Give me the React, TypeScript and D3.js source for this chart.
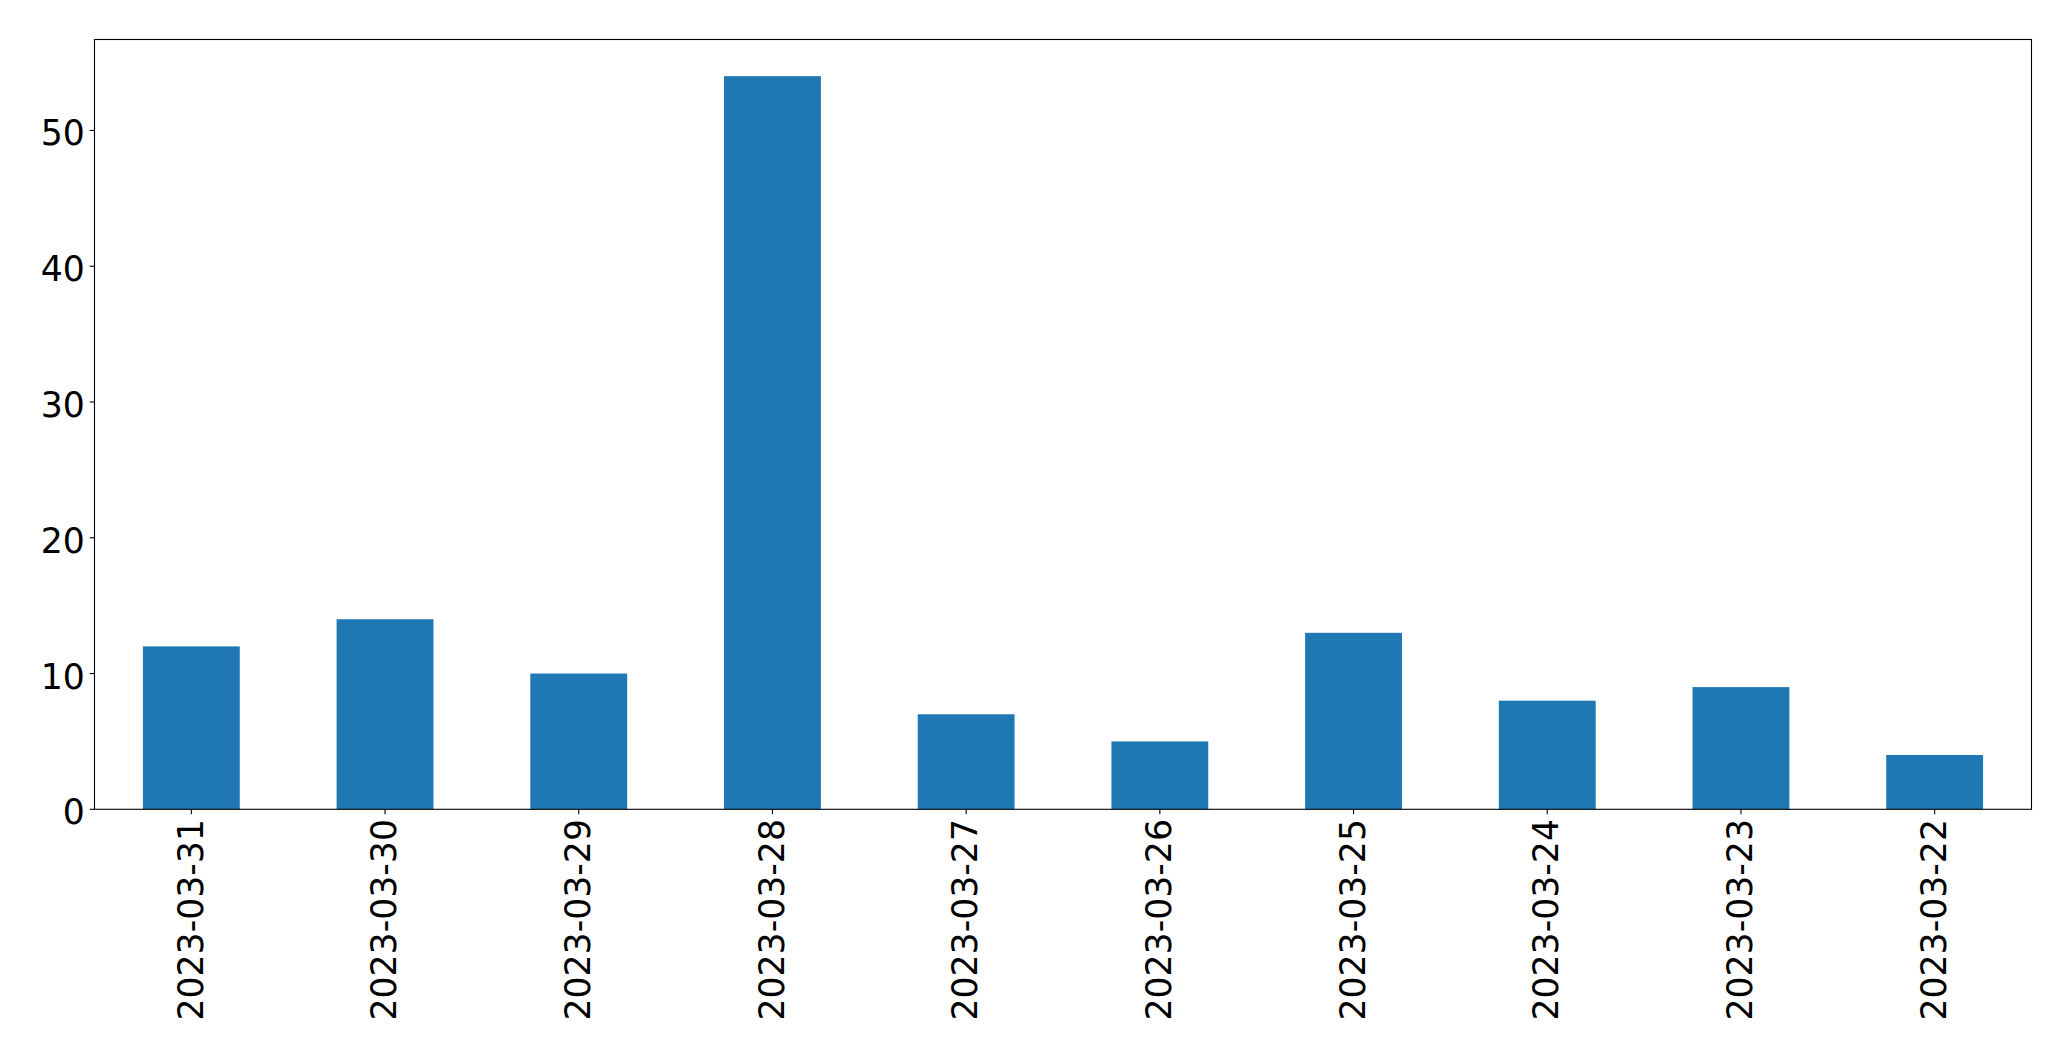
import React from "react";
import * as d3 from "d3";

const categories = ["2023-03-31", "2023-03-30", "2023-03-29", "2023-03-28", "2023-03-27", "2023-03-26", "2023-03-25", "2023-03-24", "2023-03-23", "2023-03-22"];
const values = [12, 14, 10, 54, 7, 5, 13, 8, 9, 4];
const yTicks = [0, 10, 20, 30, 40, 50];

const W = 2071;
const H = 1061;
const left = 94.5;
const right = 2031.5;
const top = 39.5;
const bottom = 809.3;
const FONT = "'DejaVu Sans', sans-serif";
const FS = 34.7;
const TICK = 4.86;

export default function App() {
  const n = categories.length;
  const x = d3.scaleLinear().domain([-0.5, n - 0.5]).range([left, right]);
  const yMax = d3.max(values)! * 1.05;
  const y = d3.scaleLinear().domain([0, yMax]).range([bottom, top]);
  const bw = x(0.25) - x(-0.25);

  return (
    <svg width={W} height={H} style={{ position: "absolute", left: 0, top: 0, background: "#fff" }} fontFamily={FONT}>
      <rect x={0} y={0} width={W} height={H} fill="#fff" />
      {values.map((v, i) => (
        <rect key={i} x={x(i) - bw / 2} y={y(v)} width={bw} height={y(0) - y(v)} fill="#1f77b4" />
      ))}
      <rect x={left} y={top} width={right - left} height={bottom - top} fill="none" stroke="#000" strokeWidth={1.1} />
      {yTicks.map((t) => (
        <g key={t}>
          <line x1={left - TICK} x2={left} y1={y(t)} y2={y(t)} stroke="#000" strokeWidth={1.1} />
          <text x={left - TICK - 4.86} y={y(t)} dy={15} textAnchor="end" fontSize={FS} fill="#000">
            {t}
          </text>
        </g>
      ))}
      {categories.map((c, i) => (
        <g key={c}>
          <line x1={x(i)} x2={x(i)} y1={bottom} y2={bottom + TICK} stroke="#000" strokeWidth={1.1} />
          <text
            transform={`translate(${x(i)},${bottom + TICK + 4.86}) rotate(-90)`}
            dy={11.2}
            textAnchor="end"
            fontSize={FS}
            fill="#000"
          >
            {c}
          </text>
        </g>
      ))}
    </svg>
  );
}
